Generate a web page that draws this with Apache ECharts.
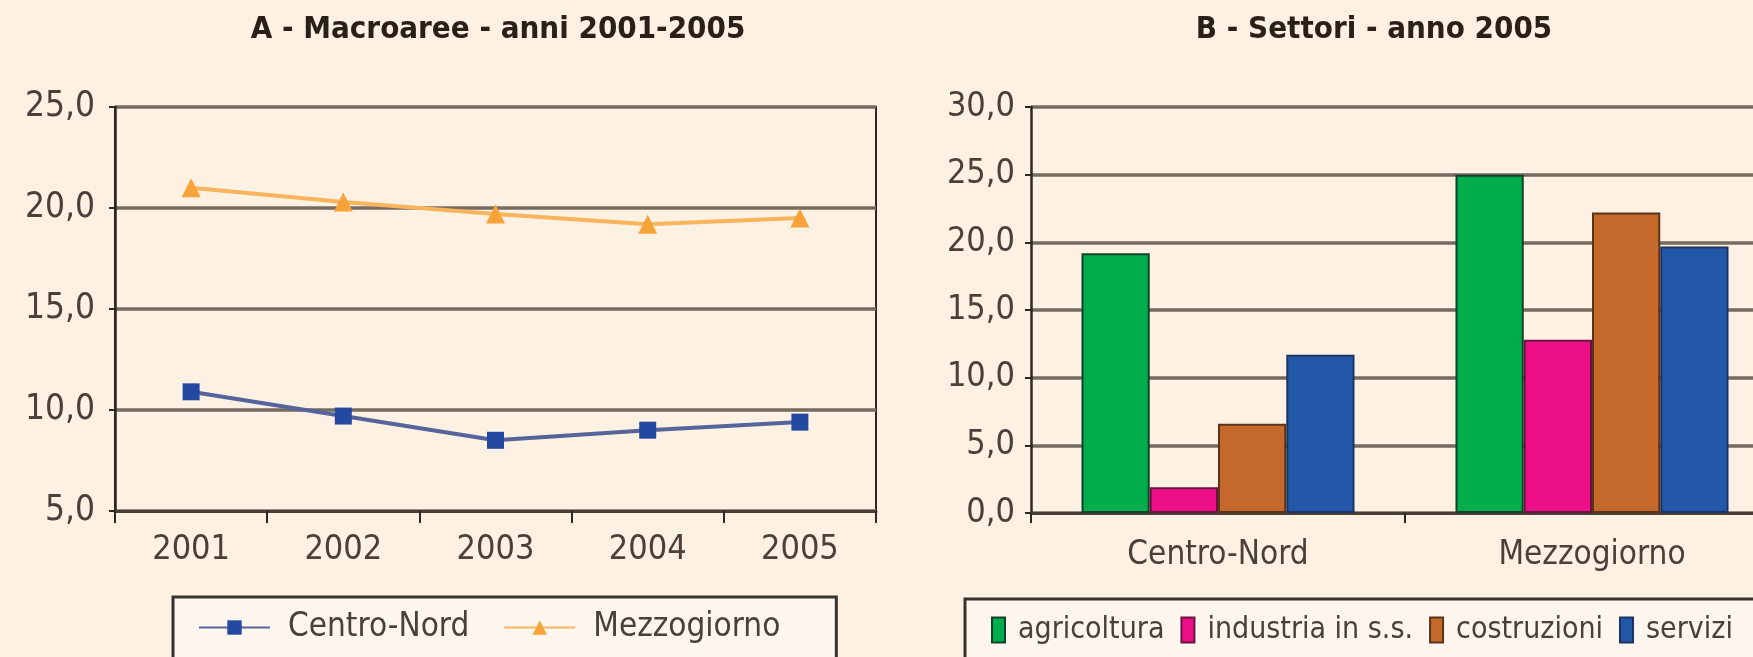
<!DOCTYPE html>
<html>
<head>
<meta charset="utf-8">
<script src="https://cdn.jsdelivr.net/npm/echarts@6/dist/echarts.min.js"></script>
<style>
html,body{margin:0;padding:0;background:#fcf1e3;}
#c{width:1753px;height:657px;}
</style>
</head>
<body>
<div id="c"></div>
<script>
// ---- Data ----
const titleA = 'A - Macroaree - anni 2001-2005';
const titleB = 'B - Settori - anno 2005';
const yearsA = ['2001', '2002', '2003', '2004', '2005'];
const centroNordA = [10.9, 9.7, 8.5, 9.0, 9.4];
const mezzogiornoA = [21.0, 20.3, 19.7, 19.2, 19.5];
const areasB = ['Centro-Nord', 'Mezzogiorno'];
const agricoltura = [19.2, 25.0];
const industria = [1.9, 12.8];
const costruzioni = [6.6, 22.2];
const servizi = [11.7, 19.7];

const FONT = "'DejaVu Sans Condensed', 'DejaVu Sans', sans-serif";
const fmt = v => v.toFixed(1).replace('.', ',');
const gridColor = '#776b60';
const axisDark = '#2e2620';
const labelColor = '#4a4038';

const chart = echarts.init(document.getElementById('c'));
chart.setOption({
  backgroundColor: '#fcf1e3',
  animation: false,
  title: [
    {text: titleA, left: 493, top: 9, textAlign: 'center',
     textStyle: {fontFamily: FONT, fontWeight: 'bold', fontSize: 31, color: '#2a2018'}},
    {text: titleB, left: 1369, top: 9, textAlign: 'center',
     textStyle: {fontFamily: FONT, fontWeight: 'bold', fontSize: 31, color: '#2a2018'}}
  ],
  legend: [
    {
      data: ['Centro-Nord', 'Mezzogiorno'],
      left: 173, top: 597,
      padding: [14, 56, 40, 25],
      itemWidth: 71, itemHeight: 18, itemGap: 34,
      backgroundColor: '#fdf6ee',
      borderColor: '#3a322c', borderWidth: 3,
      textStyle: {fontFamily: FONT, fontSize: 33, color: labelColor, padding: [0, 0, 0, 13]}
    },
    {
      data: ['agricoltura', 'industria in s.s.', 'costruzioni', 'servizi'],
      left: 965, top: 599, width: 1200,
      padding: [16, 100, 40, 26],
      icon: 'rect',
      itemWidth: 13, itemHeight: 25, itemGap: 16,
      backgroundColor: '#fdf6ee',
      borderColor: '#3a322c', borderWidth: 3,
      textStyle: {fontFamily: FONT, fontSize: 30, color: labelColor, padding: [0, 0, 0, 8]}
    }
  ],
  grid: [
    {left: 115, right: 877, top: 107, bottom: 146, show: true,
     borderColor: axisDark, borderWidth: 2, backgroundColor: 'transparent',
     outerBoundsMode: 'none'},
    {left: 1031, right: -26, top: 107, bottom: 144, outerBoundsMode: 'none'}
  ],
  xAxis: [
    {
      type: 'category', gridIndex: 0, data: yearsA, boundaryGap: true,
      axisLine: {lineStyle: {color: '#4a3f36', width: 3}},
      axisTick: {show: true, length: 12, lineStyle: {color: axisDark, width: 2}},
      axisLabel: {fontFamily: FONT, fontSize: 34, color: labelColor, margin: 22}
    },
    {
      type: 'category', gridIndex: 1, data: areasB,
      axisLine: {lineStyle: {color: '#4a3f36', width: 3}},
      axisTick: {show: true, length: 10, lineStyle: {color: axisDark, width: 2}},
      axisLabel: {fontFamily: FONT, fontSize: 33, color: labelColor, margin: 26}
    }
  ],
  yAxis: [
    {
      type: 'value', gridIndex: 0, min: 5, max: 25, interval: 5,
      axisLine: {show: true, lineStyle: {color: axisDark, width: 2.5}},
      axisTick: {show: true, length: 6, lineStyle: {color: axisDark, width: 2}},
      splitLine: {show: true, lineStyle: {color: gridColor, width: 3.5}},
      axisLabel: {fontFamily: FONT, fontSize: 35, color: labelColor, margin: 20,
                  formatter: fmt, padding: [0, 0, 14, 0]}
    },
    {
      type: 'value', gridIndex: 1, min: 0, max: 30, interval: 5,
      axisLine: {show: true, lineStyle: {color: axisDark, width: 2.5}},
      axisTick: {show: true, length: 6, lineStyle: {color: axisDark, width: 2}},
      splitLine: {show: true, lineStyle: {color: gridColor, width: 3.5}},
      axisLabel: {fontFamily: FONT, fontSize: 34, color: labelColor, margin: 16,
                  formatter: fmt, padding: [0, 0, 8, 0]}
    }
  ],
  series: [
    {
      name: 'Centro-Nord', type: 'line', xAxisIndex: 0, yAxisIndex: 0, data: centroNordA,
      symbol: 'rect', symbolSize: 17,
      lineStyle: {color: '#55649a', width: 4},
      itemStyle: {color: '#2449a0'}
    },
    {
      name: 'Mezzogiorno', type: 'line', xAxisIndex: 0, yAxisIndex: 0, data: mezzogiornoA,
      symbol: 'triangle', symbolSize: 19,
      lineStyle: {color: '#f9b45e', width: 4},
      itemStyle: {color: '#f7a33a'}
    },
    {
      name: 'agricoltura', type: 'bar', xAxisIndex: 1, yAxisIndex: 1, data: agricoltura,
      barGap: '0%', barCategoryGap: '27%',
      itemStyle: {color: '#00ad4d', borderColor: '#14402a', borderWidth: 2}
    },
    {
      name: 'industria in s.s.', type: 'bar', xAxisIndex: 1, yAxisIndex: 1, data: industria,
      barGap: '0%', barCategoryGap: '27%',
      itemStyle: {color: '#ec0f88', borderColor: '#6a1440', borderWidth: 2}
    },
    {
      name: 'costruzioni', type: 'bar', xAxisIndex: 1, yAxisIndex: 1, data: costruzioni,
      barGap: '0%', barCategoryGap: '27%',
      itemStyle: {color: '#c4692b', borderColor: '#5a3418', borderWidth: 2}
    },
    {
      name: 'servizi', type: 'bar', xAxisIndex: 1, yAxisIndex: 1, data: servizi,
      barGap: '0%', barCategoryGap: '27%',
      itemStyle: {color: '#2358a8', borderColor: '#1c3464', borderWidth: 2}
    }
  ]
});
</script>
</body>
</html>
